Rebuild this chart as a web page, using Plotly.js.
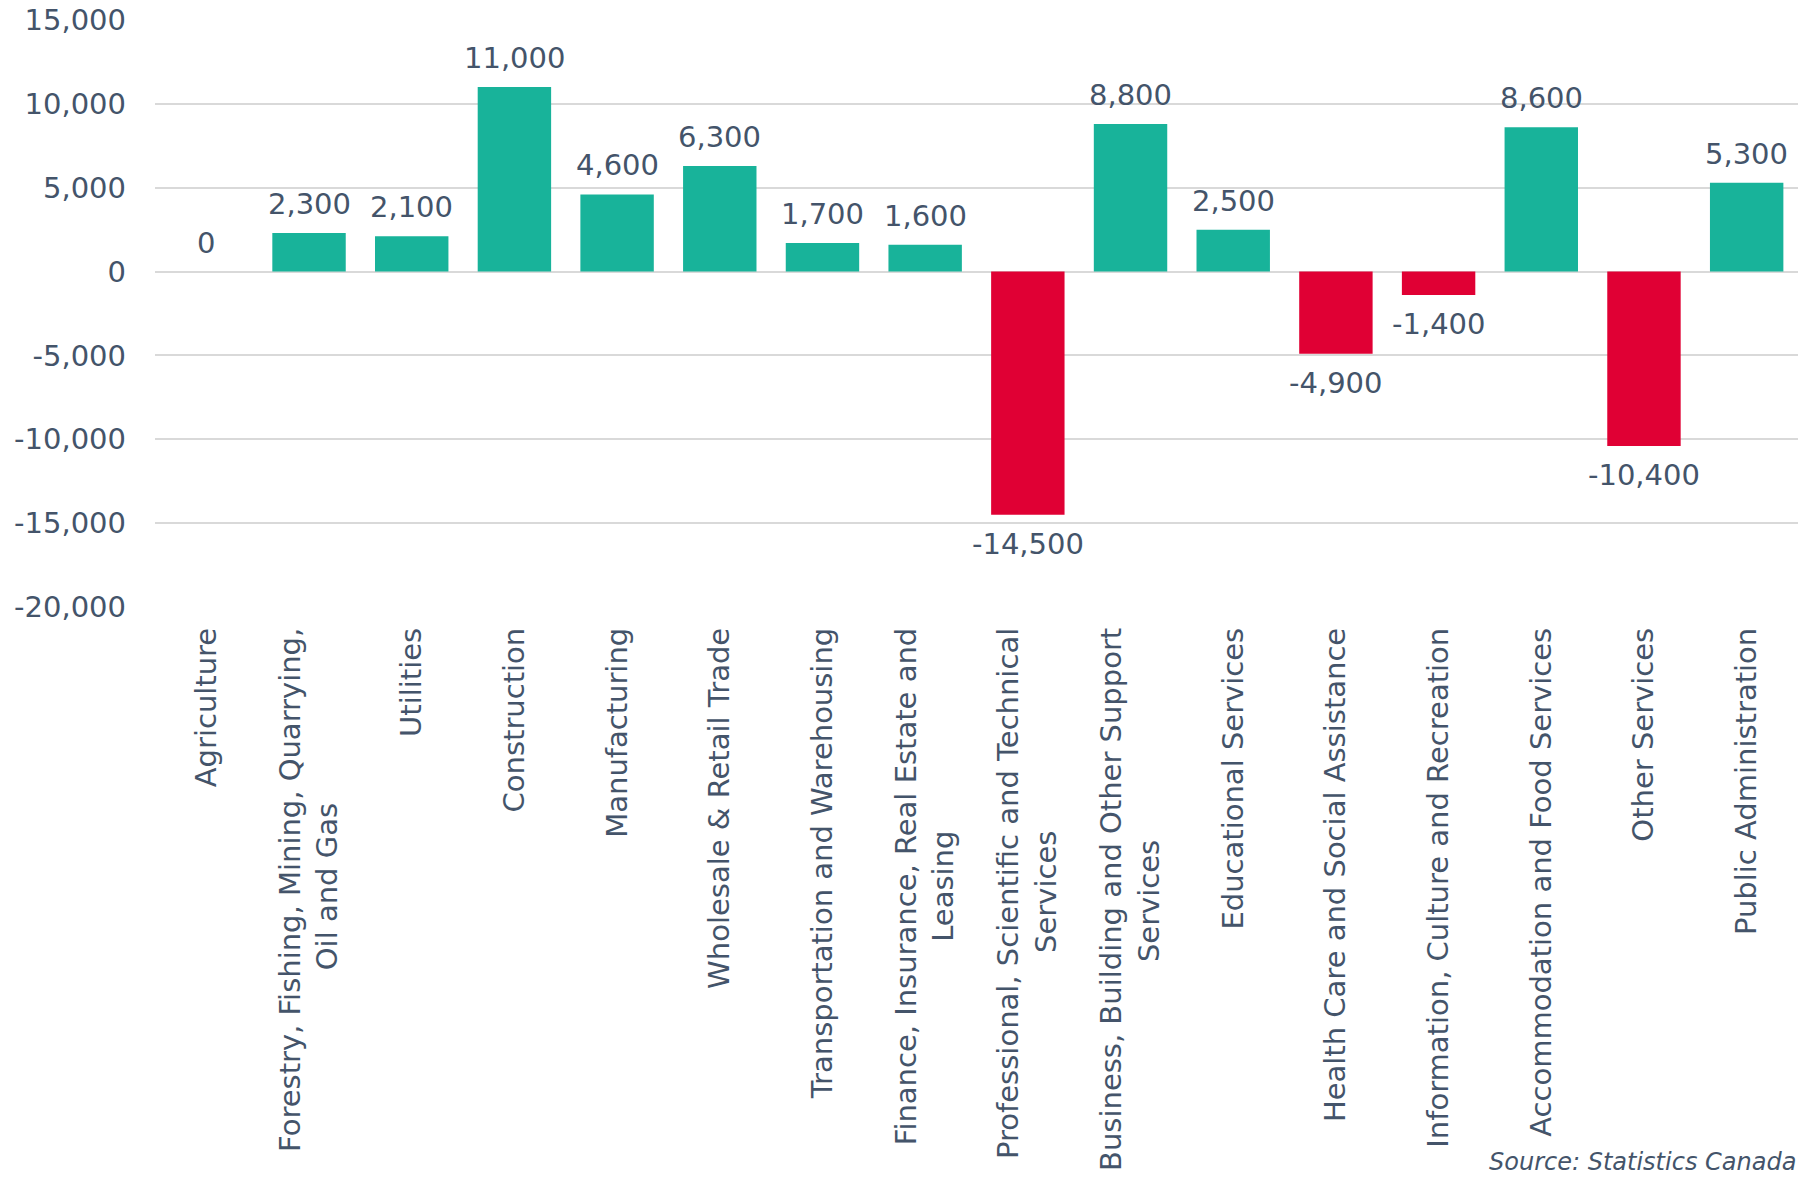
<!DOCTYPE html>
<html>
<head>
<meta charset="utf-8">
<script src="https://cdn.plot.ly/plotly-3.0.1.min.js"></script>
<style>html,body{margin:0;padding:0;background:#fff;}#chart{width:1798px;height:1181px;}</style>
</head>
<body>
<div id="chart"></div>
<script>
const categories = [
  "Agriculture",
  "Forestry, Fishing, Mining, Quarrying,<br>Oil and Gas",
  "Utilities",
  "Construction",
  "Manufacturing",
  "Wholesale & Retail Trade",
  "Transportation and Warehousing",
  "Finance, Insurance, Real Estate and<br>Leasing",
  "Professional, Scientific and Technical<br>Services",
  "Business, Building and Other Support<br>Services",
  "Educational Services",
  "Health Care and Social Assistance",
  "Information, Culture and Recreation",
  "Accommodation and Food Services",
  "Other Services",
  "Public Administration"
];
const values = [0, 2300, 2100, 11000, 4600, 6300, 1700, 1600, -14500, 8800, 2500, -4900, -1400, 8600, -10400, 5300];
const yTickVals = [15000, 10000, 5000, 0, -5000, -10000, -15000, -20000];
const yTickText = ["15,000", "10,000", "5,000", "0", "-5,000", "-10,000", "-15,000", "-20,000"];
const sourceText = "Source: Statistics Canada";

const POS = "#18B39A", NEG = "#E00034", TXT = "#44546A";
const FONT = "DejaVu Sans, Verdana, sans-serif";
const FS = 29;
const fmt = v => v.toLocaleString("en-US");

// centre the second line of wrapped rotated labels (lines are end-anchored)
const ctx = document.createElement("canvas").getContext("2d");
ctx.font = FS + "px 'DejaVu Sans'";
const NBSP = "\u00A0";
const tickLabels = categories.map(c => {
  const parts = c.split("<br>");
  if (parts.length < 2) return c;
  const w1 = ctx.measureText(parts[0]).width;
  const w2 = ctx.measureText(parts[1]).width;
  const ws = ctx.measureText(NBSP).width || FS * 0.318;
  const n = Math.max(0, Math.round((w1 - w2) / 2 / ws));
  return parts[0] + "<br>" + parts[1] + NBSP.repeat(n);
});

const trace = {
  type: "bar",
  x: categories,
  y: values,
  marker: {color: values.map(v => v < 0 ? NEG : POS)},
  hoverinfo: "none"
};

const annotations = categories.map((c, i) => ({
  x: c, y: values[i], xref: "x", yref: "y",
  text: fmt(values[i]), showarrow: false,
  yanchor: values[i] < 0 ? "top" : "bottom",
  yshift: values[i] < 0 ? -10 : 10,
  font: {family: FONT, size: FS, color: TXT}
}));
annotations.push({
  xref: "paper", yref: "paper", x: 1, y: -0.945,
  xanchor: "right", yanchor: "middle", showarrow: false,
  text: "<i>" + sourceText + "</i>",
  font: {family: FONT, size: 24, color: TXT}
});

const layout = {
  width: 1798, height: 1181,
  margin: {l: 155, r: 0, t: 20, b: 574},
  paper_bgcolor: "#fff", plot_bgcolor: "#fff",
  showlegend: false,
  bargap: 0.285,
  font: {family: FONT, color: TXT, size: FS},
  xaxis: {
    type: "category",
    tickmode: "array", tickvals: categories, ticktext: tickLabels,
    tickangle: -90,
    ticks: "", ticklabelstandoff: 14,
    tickfont: {family: FONT, size: FS, color: TXT},
    showgrid: false, showline: false, zeroline: false,
    automargin: false
  },
  yaxis: {
    range: [-20000, 15000],
    tickvals: yTickVals, ticktext: yTickText,
    ticks: "", ticklabelstandoff: 28,
    tickfont: {family: FONT, size: FS, color: TXT},
    showgrid: true, gridcolor: "#D9D9D9", gridwidth: 2,
    zeroline: true, zerolinecolor: "#D9D9D9", zerolinewidth: 2,
    showline: false, automargin: false
  },
  annotations: annotations
};

Plotly.newPlot("chart", [trace], layout, {displayModeBar: false, staticPlot: true});
</script>
</body>
</html>
